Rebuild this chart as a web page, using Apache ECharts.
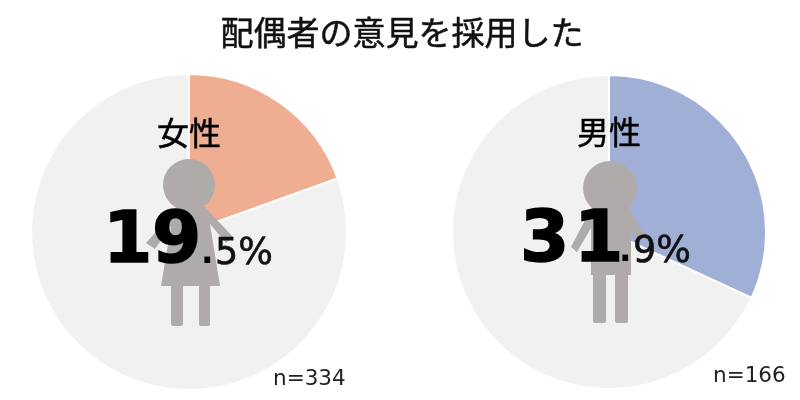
<!DOCTYPE html>
<html><head><meta charset="utf-8">
<style>html,body{margin:0;padding:0;background:#fff}#c{width:800px;height:400px}</style>
<script src="https://cdn.jsdelivr.net/npm/echarts@6/dist/echarts.min.js"></script></head>
<body><div id="c"></div>
<script>
const title = '配偶者の意見を採用した';
const groups = ['女性', '男性'];
const adopted = [19.5, 31.9];
const rest = [80.5, 68.1];
const counts = ['n=334', 'n=166'];
const colors = ['#EFAD91', '#A0AFD6'];
const restColor = '#F1F1F1';
const fig = '#AFABAB';
const cjk = '"Noto Sans CJK JP"';
const latin = '"DejaVu Sans"';

const chart = echarts.init(document.getElementById('c'), null, {renderer:'canvas'});
function pie(i, cx, r){
  return {type:'pie', center:[cx,232], radius:[0,r], startAngle:90, clockwise:true, silent:true,
    label:{show:false}, labelLine:{show:false}, animation:false,
    itemStyle:{borderColor:'#fff', borderWidth:2},
    data:[{value:adopted[i], itemStyle:{color:colors[i]}},{value:rest[i], itemStyle:{color:restColor}}]};
}
function poly(points){ return {type:'polygon', shape:{points}, style:{fill:fig}, z:10}; }
function rect(x,y,width,height,r){ return {type:'rect', shape:{x,y,width,height,r:r||0}, style:{fill:fig}, z:10}; }
function circle(cx,cy,r){ return {type:'circle', shape:{cx,cy,r}, style:{fill:fig}, z:10}; }
function txt(text,x,y,font,size,weight,align,fill,extra){
  return {type:'text', x, y, z:20, style:Object.assign({text, fill:fill||'#000', font:`${weight} ${size}px ${font}`, align, verticalAlign:'middle'},extra||{})};
}
function parts(v){ const s=v.toFixed(1).split('.'); return [s[0], s[1]+'%']; }
const p0=parts(adopted[0]), p1=parts(adopted[1]);
const med={stroke:'#111',lineWidth:0.6};
const bold={stroke:'#000',lineWidth:1.5};
const ink={stroke:'#111',lineWidth:0.5};
chart.setOption({
  animation:false,
  backgroundColor:'#fff',
  series:[pie(0,189,158), pie(1,609,157)],
  graphic:[
    circle(189,185,26),
    poly([[178,207],[205,207],[233,237],[226,243],[210,224],[220,286],[161,286],[171,226],[155,249],[146,243]]),
    rect(171,284,12,42,2), rect(199,284,11,42,2),
    circle(610,188,27),
    poly([[592,207],[628,207],[645,236],[638,242],[631,228],[631,275],[591,275],[591,228],[577,252],[571,247]]),
    rect(593,272,13,51,2), rect(615,272,13,51,2),
    txt(title,402,32,cjk,33,'400','center','#111',ink),
    txt(groups[0],189,133,cjk,32,'400','center','#000',ink),
    txt(groups[1],609,132,cjk,32,'400','center','#000',ink),
    txt(p0[0].charAt(0),103,244,latin,71,'700','left','#000',bold),
    txt(p0[0].charAt(1),152,244,latin,71,'700','left','#000',bold),
    txt('.',201,254,latin,33,'700','left'),
    txt(p0[1],215,255,latin,36.5,'400','left','#111',med),
    txt(p1[0].charAt(0),520,243,latin,71,'700','left','#000',bold),
    txt(p1[0].charAt(1),574,243,latin,71,'700','left','#000',bold),
    txt('.',619,252,latin,33,'700','left'),
    txt(p1[1],633,253,latin,36.5,'400','left','#111',med),
    txt(counts[0],273,379,latin,21.5,'400','left','#222'),
    txt(counts[1],713,376,latin,21.5,'400','left','#222')
  ]
});
</script></body></html>
